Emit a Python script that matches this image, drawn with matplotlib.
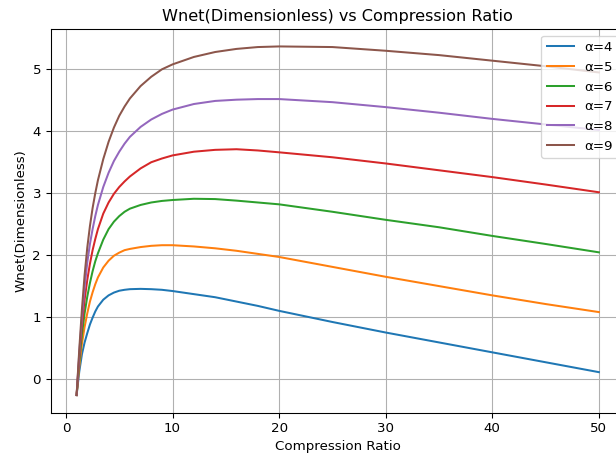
import numpy as np
import matplotlib
matplotlib.use('Agg')
import matplotlib.pyplot as plt

# compression ratio samples
r = [1, 1.25, 1.5, 1.75, 2, 2.25, 2.5, 2.75, 3, 3.5, 4, 4.5, 5, 5.5, 6, 7, 8, 9,
     10, 12, 14, 16, 18, 20, 25, 30, 35, 40, 45, 50]

# dimensionless net work, one list per alpha
w_a4 = [-0.26, 0.12, 0.40, 0.59, 0.74, 0.88, 0.99, 1.09, 1.17, 1.28, 1.35,
        1.395, 1.425, 1.44, 1.45, 1.455, 1.45, 1.44, 1.42, 1.37, 1.32, 1.25,
        1.18, 1.10, 0.92, 0.75, 0.59, 0.43, 0.27, 0.11]
w_a5 = [-0.26, 0.20, 0.57, 0.84, 1.06, 1.25, 1.40, 1.53, 1.64, 1.80, 1.91,
        1.99, 2.04, 2.08, 2.10, 2.13, 2.15, 2.16, 2.16, 2.14, 2.11, 2.07,
        2.02, 1.97, 1.81, 1.65, 1.50, 1.35, 1.21, 1.08]
w_a6 = [-0.26, 0.28, 0.72, 1.06, 1.33, 1.55, 1.74, 1.90, 2.03, 2.25, 2.42,
        2.54, 2.63, 2.70, 2.75, 2.81, 2.85, 2.875, 2.89, 2.91, 2.905, 2.88,
        2.85, 2.82, 2.70, 2.57, 2.45, 2.31, 2.18, 2.045]
w_a7 = [-0.26, 0.35, 0.87, 1.28, 1.60, 1.86, 2.08, 2.26, 2.42, 2.67, 2.85,
        2.99, 3.10, 3.19, 3.27, 3.40, 3.50, 3.56, 3.61, 3.67, 3.70, 3.71,
        3.69, 3.66, 3.58, 3.48, 3.37, 3.26, 3.14, 3.015]
w_a8 = [-0.26, 0.42, 1.00, 1.48, 1.88, 2.18, 2.42, 2.63, 2.81, 3.10, 3.33,
        3.52, 3.67, 3.80, 3.91, 4.07, 4.19, 4.28, 4.35, 4.44, 4.49, 4.51,
        4.52, 4.52, 4.47, 4.39, 4.30, 4.20, 4.11, 4.02]
w_a9 = [-0.26, 0.48, 1.13, 1.68, 2.12, 2.47, 2.76, 3.00, 3.21, 3.55, 3.83,
        4.06, 4.25, 4.40, 4.53, 4.73, 4.88, 5.00, 5.08, 5.20, 5.28, 5.33,
        5.36, 5.37, 5.36, 5.30, 5.23, 5.14, 5.05, 4.95]

alphas = [4, 5, 6, 7, 8, 9]
series = [w_a4, w_a5, w_a6, w_a7, w_a8, w_a9]

DPI = 96.7
fig = plt.figure(figsize=(616 / DPI, 454 / DPI), dpi=DPI)
# axes run past the right edge like the cropped original
ax = fig.add_axes([50.5 / 616, 41.5 / 454, 574.5 / 616, 383.5 / 454])

for a, w in zip(alphas, series):
    ax.plot(r, w, label='α=%d' % a, linewidth=1.5)

ax.grid(True)
ax.set_title('Wnet(Dimensionless) vs Compression Ratio')
ax.set_xlabel('Compression Ratio')
ax.set_ylabel('Wnet(Dimensionless)')
ax.legend(loc='upper right')

fig.savefig('out.png', dpi=DPI)
